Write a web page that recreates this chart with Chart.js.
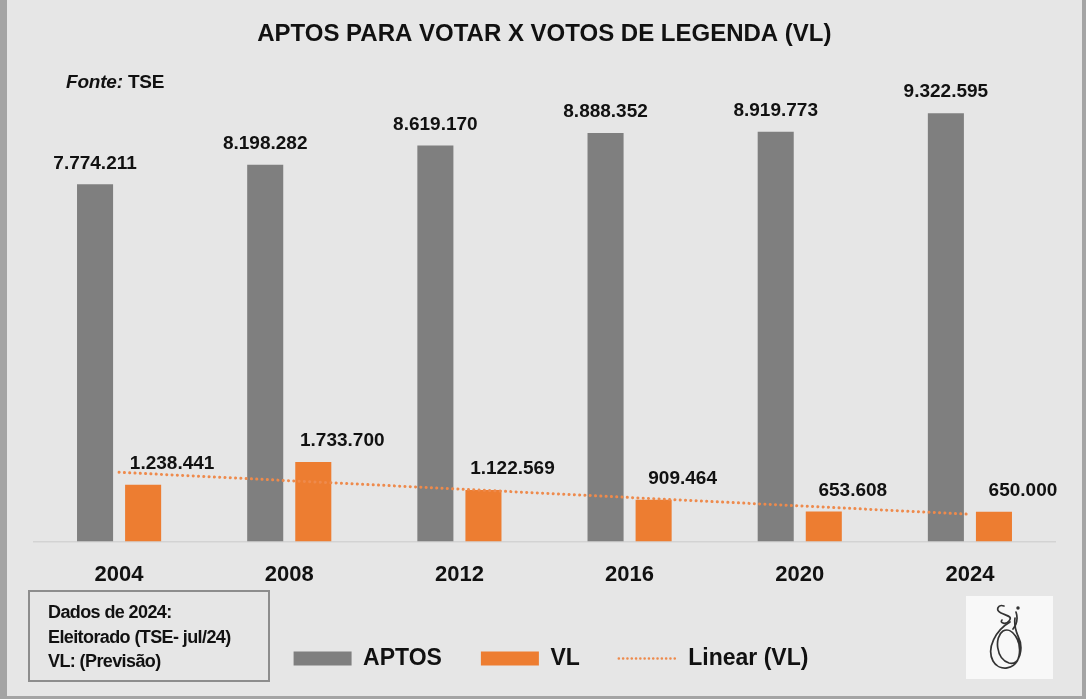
<!DOCTYPE html>
<html>
<head>
<meta charset="utf-8">
<script src="https://cdn.jsdelivr.net/npm/chart.js@4/dist/chart.umd.min.js"></script>
<style>
  html, body { margin:0; padding:0; background:#e6e6e6; }
  #wrap { position:relative; width:1086px; height:699px; background:#e6e6e6; overflow:hidden; font-family:"Liberation Sans", Arial, sans-serif; }
  #c { position:absolute; left:0; top:0; }
  #frame { position:absolute; left:0; top:0; width:1086px; height:699px; box-sizing:border-box;
    border-left:7px solid #a4a4a4; border-right:4px solid #a4a4a4; border-bottom:3px solid #a4a4a4; pointer-events:none; }
  #fonte { position:absolute; left:66px; top:71px; font-size:19px; font-weight:bold; color:#111; letter-spacing:-0.2px; }
  #fonte i { font-style:italic; }
  #note { position:absolute; left:28px; top:590px; width:242px; height:92px; box-sizing:border-box;
    border:2px solid #8d8d8d; padding:8px 0 0 18px; font-size:18px; font-weight:bold; color:#111; line-height:24.5px; letter-spacing:-0.6px; }
  #logo { position:absolute; left:966px; top:596px; width:87px; height:83px; background:#f8f8f8; }
</style>
</head>
<body>
<div id="wrap">
  <canvas id="c" width="1086" height="699"></canvas>
  <div id="fonte"><i>Fonte:</i> TSE</div>
  <div id="note">Dados de 2024:<br>Eleitorado (TSE- jul/24)<br>VL: (Previsão)</div>
  <div id="logo">
    <svg width="87" height="83" viewBox="0 0 87 83">
      <g fill="none" stroke="#333" stroke-width="1.7" stroke-linecap="round">
        <path d="M38 10 C32 8 29 14 35 17 C41 20 47 20 43 25 C40 29 33 27 36 24"/>
        <path d="M50 16 C52 22 51 28 47 33"/>
        <circle cx="52" cy="12" r="0.9"/>
        <path d="M44 26 C30 34 20 52 27 65 C33 76 50 74 53 60 C56 45 46 30 37 35 C28 41 30 63 43 67 C54 70 58 52 52 40 C49 33 48 29 49 22"/>
      </g>
    </svg>
  </div>
  <div id="frame"></div>
</div>
<script>
// ---- data ----
const years = ['2004', '2008', '2012', '2016', '2020', '2024'];
const aptos = [7774211, 8198282, 8619170, 8888352, 8919773, 9322595];
const votosLegenda = [1238441, 1733700, 1122569, 909464, 653608, 650000];
const seriesNames = ['APTOS', 'VL', 'Linear (VL)'];
const chartTitle = 'APTOS PARA VOTAR X VOTOS DE LEGENDA (VL)';

// least-squares linear trendline of the VL series (as Excel's "Linear" trendline)
function linearTrend(vals) {
  const n = vals.length;
  const xs = vals.map((_, i) => i + 1);
  const mx = xs.reduce((a, b) => a + b, 0) / n;
  const my = vals.reduce((a, b) => a + b, 0) / n;
  let sxy = 0, sxx = 0;
  for (let i = 0; i < n; i++) { sxy += (xs[i] - mx) * (vals[i] - my); sxx += (xs[i] - mx) ** 2; }
  const b = sxy / sxx, a = my - b * mx;
  return xs.map(x => a + b * x);
}
const trendVL = linearTrend(votosLegenda);

function fmt(n) { return String(Math.round(n)).replace(/\B(?=(\d{3})+(?!\d))/g, '.'); }

const GREY = '#7f7f7f', ORANGE = '#ed7d31', TEXT = '#111111';
const FONT = '"Liberation Sans", Arial, sans-serif';

const valueLabels = {
  id: 'valueLabels',
  afterDatasetsDraw(chart) {
    const ctx = chart.ctx;
    const dxs = { 0: 0, 1: 29 };
    ctx.save();
    ctx.font = 'bold 19px ' + FONT;
    ctx.fillStyle = TEXT;
    ctx.textAlign = 'center';
    ctx.textBaseline = 'middle';
    [0, 1].forEach(di => {
      const meta = chart.getDatasetMeta(di);
      const ds = chart.data.datasets[di];
      meta.data.forEach((el, i) => {
        ctx.fillText(fmt(ds.data[i]), el.x + dxs[di], el.y - 21);
      });
    });
    ctx.restore();
  }
};

new Chart(document.getElementById('c'), {
  type: 'bar',
  data: {
    labels: years,
    datasets: [
      { label: seriesNames[0], data: aptos, backgroundColor: GREY, borderWidth: 0, order: 2,
        categoryPercentage: 0.565, barPercentage: 0.75 },
      { label: seriesNames[1], data: votosLegenda, backgroundColor: ORANGE, borderWidth: 0, order: 2,
        categoryPercentage: 0.565, barPercentage: 0.75 },
      { type: 'line', label: seriesNames[2], data: trendVL, borderColor: '#ee8a4c', backgroundColor: '#ee8a4c',
        borderWidth: 3, borderDash: [0.1, 5.2], borderCapStyle: 'round', pointRadius: 0, fill: false, order: 0, tension: 0 }
    ]
  },
  options: {
    responsive: false,
    animation: false,
    layout: { padding: { left: 34, right: 18, top: 0, bottom: 19 } },
    plugins: {
      title: {
        display: true, text: chartTitle + '  ', color: TEXT,
        font: { family: FONT, size: 24, weight: 'bold', lineHeight: 1.2 },
        padding: { top: 20, bottom: 33.2 }
      },
      legend: {
        display: true, position: 'bottom',
        labels: {
          color: TEXT, font: { family: FONT, size: 23, weight: 'bold' },
          usePointStyle: true, pointStyleWidth: 58, boxHeight: 14, padding: 39,
          sort: (a, b) => a.datasetIndex - b.datasetIndex,
          generateLabels(chart) {
            const items = Chart.defaults.plugins.legend.labels.generateLabels(chart);
            items.forEach(it => {
              if (it.datasetIndex === 2) {
                it.pointStyle = 'line'; it.lineWidth = 2.5; it.strokeStyle = '#ee8a4c';
                it.lineDash = [0.1, 4.2]; it.lineCap = 'round';
              } else {
                it.pointStyle = 'rect'; it.lineWidth = 0;
              }
            });
            return items;
          }
        }
      },
      tooltip: { enabled: false }
    },
    scales: {
      x: {
        grid: { display: false, drawTicks: false },
        border: { display: true, color: '#d3d3d3', width: 1.5 },
        ticks: { color: TEXT, font: { family: FONT, size: 22, weight: 'bold' }, padding: 20 }
      },
      y: {
        position: 'right', min: 0, max: 10000000,
        grid: { display: false, drawTicks: false },
        border: { display: false },
        ticks: { display: false },
        afterFit(s) { s.width = 13; }
      }
    }
  },
  plugins: [valueLabels]
});
</script>
</body>
</html>
